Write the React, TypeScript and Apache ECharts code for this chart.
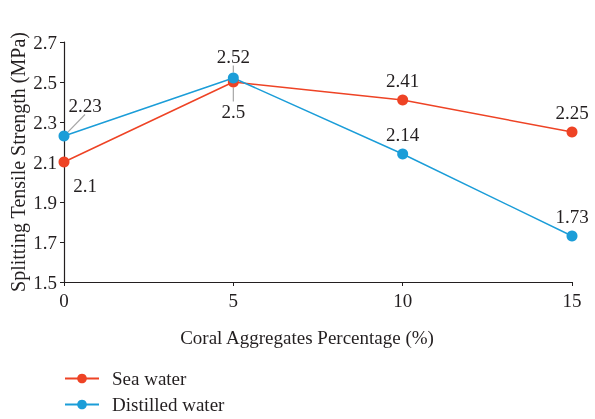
import React, { useEffect, useRef } from "react";
import * as echarts from "echarts";

const xValues = [0, 5, 10, 15];
const seaWater = [2.1, 2.5, 2.41, 2.25];
const distilledWater = [2.23, 2.52, 2.14, 1.73];
const yTicks = [1.5, 1.7, 1.9, 2.1, 2.3, 2.5, 2.7];
const seriesNames = ["Sea water", "Distilled water"];

const FONT = "Liberation Serif";
const FS = 19;
const TEXT = "#231f20";
const RED = "#ee4325";
const BLUE = "#1b9dd8";

export default function App() {
  const ref = useRef<HTMLDivElement>(null);
  useEffect(() => {
    const chart = echarts.init(ref.current!, null, { renderer: "svg" });
    const labelBase = { show: true, fontFamily: FONT, fontSize: FS, color: TEXT, distance: 5 };
    const guide = { show: true, lineStyle: { color: "#a6a6a6", width: 1.2 }, length2: 0 };
    const seaData = seaWater.map((v, i) => {
      const item: any = { value: [xValues[i], v] };
      if (i === 0) item.label = { position: "bottom" };
      if (i === 1) {
        item.label = { position: "bottom" };
        item.labelLine = guide;
      }
      return item;
    });
    const distData = distilledWater.map((v, i) => {
      const item: any = { value: [xValues[i], v] };
      if (i === 0 || i === 1) item.labelLine = guide;
      return item;
    });
    const legendBase = {
      orient: "vertical",
      left: 64,
      padding: 0,
      itemWidth: 34,
      itemHeight: 12,
      textStyle: { fontFamily: FONT, fontSize: FS, color: TEXT, padding: [0, 0, 0, 8] },
    };
    chart.setOption({
      animation: false,
      textStyle: { fontFamily: FONT, color: TEXT },
      grid: { left: 64, right: 23, top: 42, bottom: 137, outerBoundsMode: "none", containLabel: false },
      xAxis: {
        type: "value",
        min: 0,
        max: 15,
        interval: 5,
        name: "Coral Aggregates Percentage (%)",
        nameLocation: "middle",
        nameGap: 46,
        nameMoveOverlap: false,
        nameTextStyle: { fontFamily: FONT, fontSize: FS, color: TEXT, padding: [0, 22, 0, 0] },
        splitLine: { show: false },
        axisLine: { lineStyle: { color: TEXT, width: 1.2 } },
        axisTick: { show: true, length: 4, lineStyle: { color: TEXT } },
        axisLabel: { fontFamily: FONT, fontSize: FS, color: TEXT, margin: 9 },
      },
      yAxis: {
        type: "value",
        min: yTicks[0],
        max: yTicks[yTicks.length - 1],
        interval: 0.2,
        name: "Splitting Tensile Strength (MPa)",
        nameLocation: "middle",
        nameGap: 36,
        nameMoveOverlap: false,
        nameTextStyle: { fontFamily: FONT, fontSize: 20, color: TEXT },
        splitLine: { show: false },
        axisLine: { show: true, lineStyle: { color: TEXT, width: 1.2 } },
        axisTick: { show: true, length: 4, lineStyle: { color: TEXT } },
        axisLabel: {
          fontFamily: FONT,
          fontSize: FS,
          color: TEXT,
          margin: 7,
          formatter: (v: number) => v.toFixed(1),
        },
      },
      legend: [
        { ...legendBase, top: 369, data: [seriesNames[0]] },
        { ...legendBase, top: 395, data: [seriesNames[1]] },
      ],
      series: [
        {
          name: seriesNames[0],
          type: "line",
          data: seaData,
          symbol: "circle",
          symbolSize: 11,
          itemStyle: { color: RED },
          lineStyle: { color: RED, width: 1.5 },
          label: { ...labelBase, position: "top", formatter: (p: any) => String(p.value[1]) },
          labelLayout: (p: any) =>
            p.dataIndex === 0 ? { dx: 21, dy: 3 } : p.dataIndex === 1 ? { dy: 9 } : {},
        },
        {
          name: seriesNames[1],
          type: "line",
          data: distData,
          symbol: "circle",
          symbolSize: 11,
          itemStyle: { color: BLUE },
          lineStyle: { color: BLUE, width: 1.5 },
          label: { ...labelBase, position: "top", formatter: (p: any) => String(p.value[1]) },
          labelLayout: (p: any) =>
            p.dataIndex === 0 ? { dx: 21, dy: -11 } : p.dataIndex === 1 ? { dy: -2 } : {},
        },
      ],
    });
    return () => chart.dispose();
  }, []);
  return (
    <div
      ref={ref}
      style={{ position: "fixed", left: 0, top: 0, width: 595, height: 419 }}
    />
  );
}
